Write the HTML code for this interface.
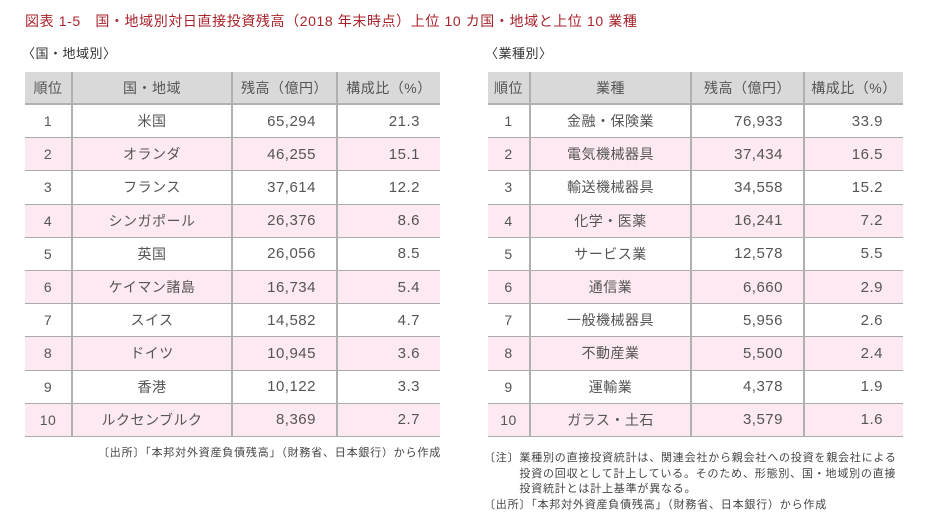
<!DOCTYPE html>
<html><head><meta charset="utf-8"><style>
body{margin:0;width:944px;height:527px;background:#fff;font-family:"Liberation Sans","Noto Sans CJK JP",sans-serif;color:#444;position:relative;overflow:hidden}
.t{position:absolute;left:25px;top:11px;font-size:14px;color:#a8232c;white-space:nowrap;letter-spacing:0.6px}
.s{position:absolute;font-size:13px;color:#333;top:43px;white-space:nowrap;letter-spacing:0.5px}
table{position:absolute;top:72px;border-collapse:collapse;font-size:14px;table-layout:fixed;letter-spacing:0.5px}
td{height:32.2px;border-bottom:1px solid #aaa;border-left:2px solid #b0b0b0;padding:0;text-align:center;color:#555}
td:first-child{border-left:none}
tr.h td{background:#d9d9d9;border-bottom:2px solid #b0b0b0;height:31px}
tr.p td{background:#fde9f1}
td.n{text-align:right;padding-right:20px;font-size:15px}
tr.h td.n{text-align:center;padding-right:0;font-size:14px}
.f{position:absolute;font-size:11px;color:#444;white-space:nowrap;line-height:15.5px;letter-spacing:0.8px}
</style></head><body>
<div class="t">図表 1-5　国・地域別対日直接投資残高（2018 年末時点）上位 10 カ国・地域と上位 10 業種</div>
<div class="s" style="left:22px">〈国・地域別〉</div>
<div class="s" style="left:485px">〈業種別〉</div>
<table style="left:25px;width:415px">
<colgroup><col style="width:47px"><col style="width:160px"><col style="width:105px"><col style="width:103px"></colgroup>
<tr class="h"><td>順位</td><td>国・地域</td><td class="n">残高（億円）</td><td class="n">構成比（%）</td></tr>
<tr><td>1</td><td>米国</td><td class="n">65,294</td><td class="n">21.3</td></tr>
<tr class="p"><td>2</td><td>オランダ</td><td class="n">46,255</td><td class="n">15.1</td></tr>
<tr><td>3</td><td>フランス</td><td class="n">37,614</td><td class="n">12.2</td></tr>
<tr class="p"><td>4</td><td>シンガポール</td><td class="n">26,376</td><td class="n">8.6</td></tr>
<tr><td>5</td><td>英国</td><td class="n">26,056</td><td class="n">8.5</td></tr>
<tr class="p"><td>6</td><td>ケイマン諸島</td><td class="n">16,734</td><td class="n">5.4</td></tr>
<tr><td>7</td><td>スイス</td><td class="n">14,582</td><td class="n">4.7</td></tr>
<tr class="p"><td>8</td><td>ドイツ</td><td class="n">10,945</td><td class="n">3.6</td></tr>
<tr><td>9</td><td>香港</td><td class="n">10,122</td><td class="n">3.3</td></tr>
<tr class="p"><td>10</td><td>ルクセンブルク</td><td class="n">8,369</td><td class="n">2.7</td></tr>
</table>
<table style="left:488px;width:415px">
<colgroup><col style="width:42px"><col style="width:161px"><col style="width:113px"><col style="width:99px"></colgroup>
<tr class="h"><td>順位</td><td>業種</td><td class="n">残高（億円）</td><td class="n">構成比（%）</td></tr>
<tr><td>1</td><td>金融・保険業</td><td class="n">76,933</td><td class="n">33.9</td></tr>
<tr class="p"><td>2</td><td>電気機械器具</td><td class="n">37,434</td><td class="n">16.5</td></tr>
<tr><td>3</td><td>輸送機械器具</td><td class="n">34,558</td><td class="n">15.2</td></tr>
<tr class="p"><td>4</td><td>化学・医薬</td><td class="n">16,241</td><td class="n">7.2</td></tr>
<tr><td>5</td><td>サービス業</td><td class="n">12,578</td><td class="n">5.5</td></tr>
<tr class="p"><td>6</td><td>通信業</td><td class="n">6,660</td><td class="n">2.9</td></tr>
<tr><td>7</td><td>一般機械器具</td><td class="n">5,956</td><td class="n">2.6</td></tr>
<tr class="p"><td>8</td><td>不動産業</td><td class="n">5,500</td><td class="n">2.4</td></tr>
<tr><td>9</td><td>運輸業</td><td class="n">4,378</td><td class="n">1.9</td></tr>
<tr class="p"><td>10</td><td>ガラス・土石</td><td class="n">3,579</td><td class="n">1.6</td></tr>
</table>
<div class="f" style="left:98px;top:446px">〔出所〕「本邦対外資産負債残高」（財務省、日本銀行）から作成</div>
<div class="f" style="left:484px;top:451px">〔注〕業種別の直接投資統計は、関連会社から親会社への投資を親会社による<br>　　　投資の回収として計上している。そのため、形態別、国・地域別の直接<br>　　　投資統計とは計上基準が異なる。<br>〔出所〕「本邦対外資産負債残高」（財務省、日本銀行）から作成</div>
</body></html>
